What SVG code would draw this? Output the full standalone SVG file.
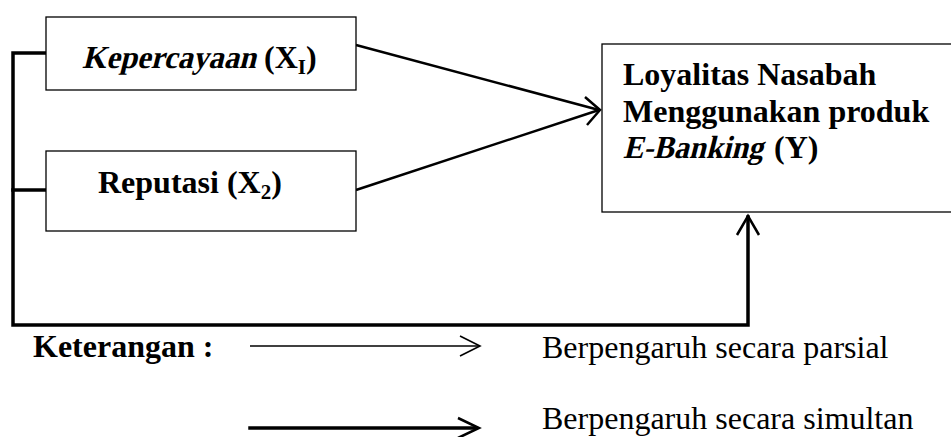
<svg xmlns="http://www.w3.org/2000/svg" width="951" height="437" viewBox="0 0 951 437">
<style>
.box{fill:#fff;stroke:#000;stroke-width:1.3}
.t{font-family:"Liberation Serif","Times New Roman",serif;font-size:32px;fill:#000}
.b{font-weight:bold}
.sub{font-size:21px}
.thick{fill:none;stroke:#000;stroke-width:3.5;stroke-linecap:square}
.mid{fill:none;stroke:#000;stroke-width:2.5}
.thin{fill:none;stroke:#000;stroke-width:1.6}
</style>
<rect width="951" height="437" fill="#fff"/>
<g id="connectors">
  <path class="thick" d="M46 53 H13 V325 H748 V217"/>
  <path class="thick" d="M46 190 H13"/>
  <path class="mid" d="M737 235 L748 216 L759 235" stroke-width="3.5"/>
  <line class="mid" x1="356" y1="45" x2="599" y2="110"/>
  <line class="mid" x1="356" y1="190" x2="599" y2="110"/>
  <path class="mid" d="M585 97 L600 110 L587 125"/>
</g>
<g id="node-x1">
  <rect class="box" x="46" y="17" width="310" height="73"/>
  <text class="t b" transform="translate(82 68) skewX(-14)" x="0" y="0" textLength="174" lengthAdjust="spacingAndGlyphs">Kepercayaan</text>
  <text class="t b" x="264" y="68">(X<tspan class="sub" dy="6">I</tspan><tspan dy="-6">)</tspan></text>
</g>
<g id="node-x2">
  <rect class="box" x="46" y="151" width="310" height="80"/>
  <text class="t b" x="98" y="193">Reputasi (X<tspan class="sub" dy="6">2</tspan><tspan dy="-6">)</tspan></text>
</g>
<g id="node-y">
  <rect class="box" x="602" y="44" width="360" height="168" stroke-width="1.6"/>
  <text class="t b" x="623" y="85">Loyalitas Nasabah</text>
  <text class="t b" x="623" y="122">Menggunakan produk</text>
  <text class="t b" transform="translate(623 158) skewX(-14)" x="0" y="0" textLength="140" lengthAdjust="spacingAndGlyphs">E-Banking</text>
  <text class="t b" x="774" y="158">(Y)</text>
</g>
<g id="legend">
  <text class="t b" x="33" y="357">Keterangan :</text>
  <line class="thin" x1="250" y1="346" x2="479" y2="346"/>
  <path class="thin" d="M460 336 L480 346 L460 356"/>
  <text class="t" x="542" y="358">Berpengaruh secara parsial</text>
  <line class="thick" x1="250" y1="428" x2="476" y2="428" stroke-linecap="butt"/>
  <path class="mid" d="M458 418 L479 428 L458 438" stroke-width="3"/>
  <text class="t" x="542" y="429">Berpengaruh secara simultan</text>
</g>
</svg>
